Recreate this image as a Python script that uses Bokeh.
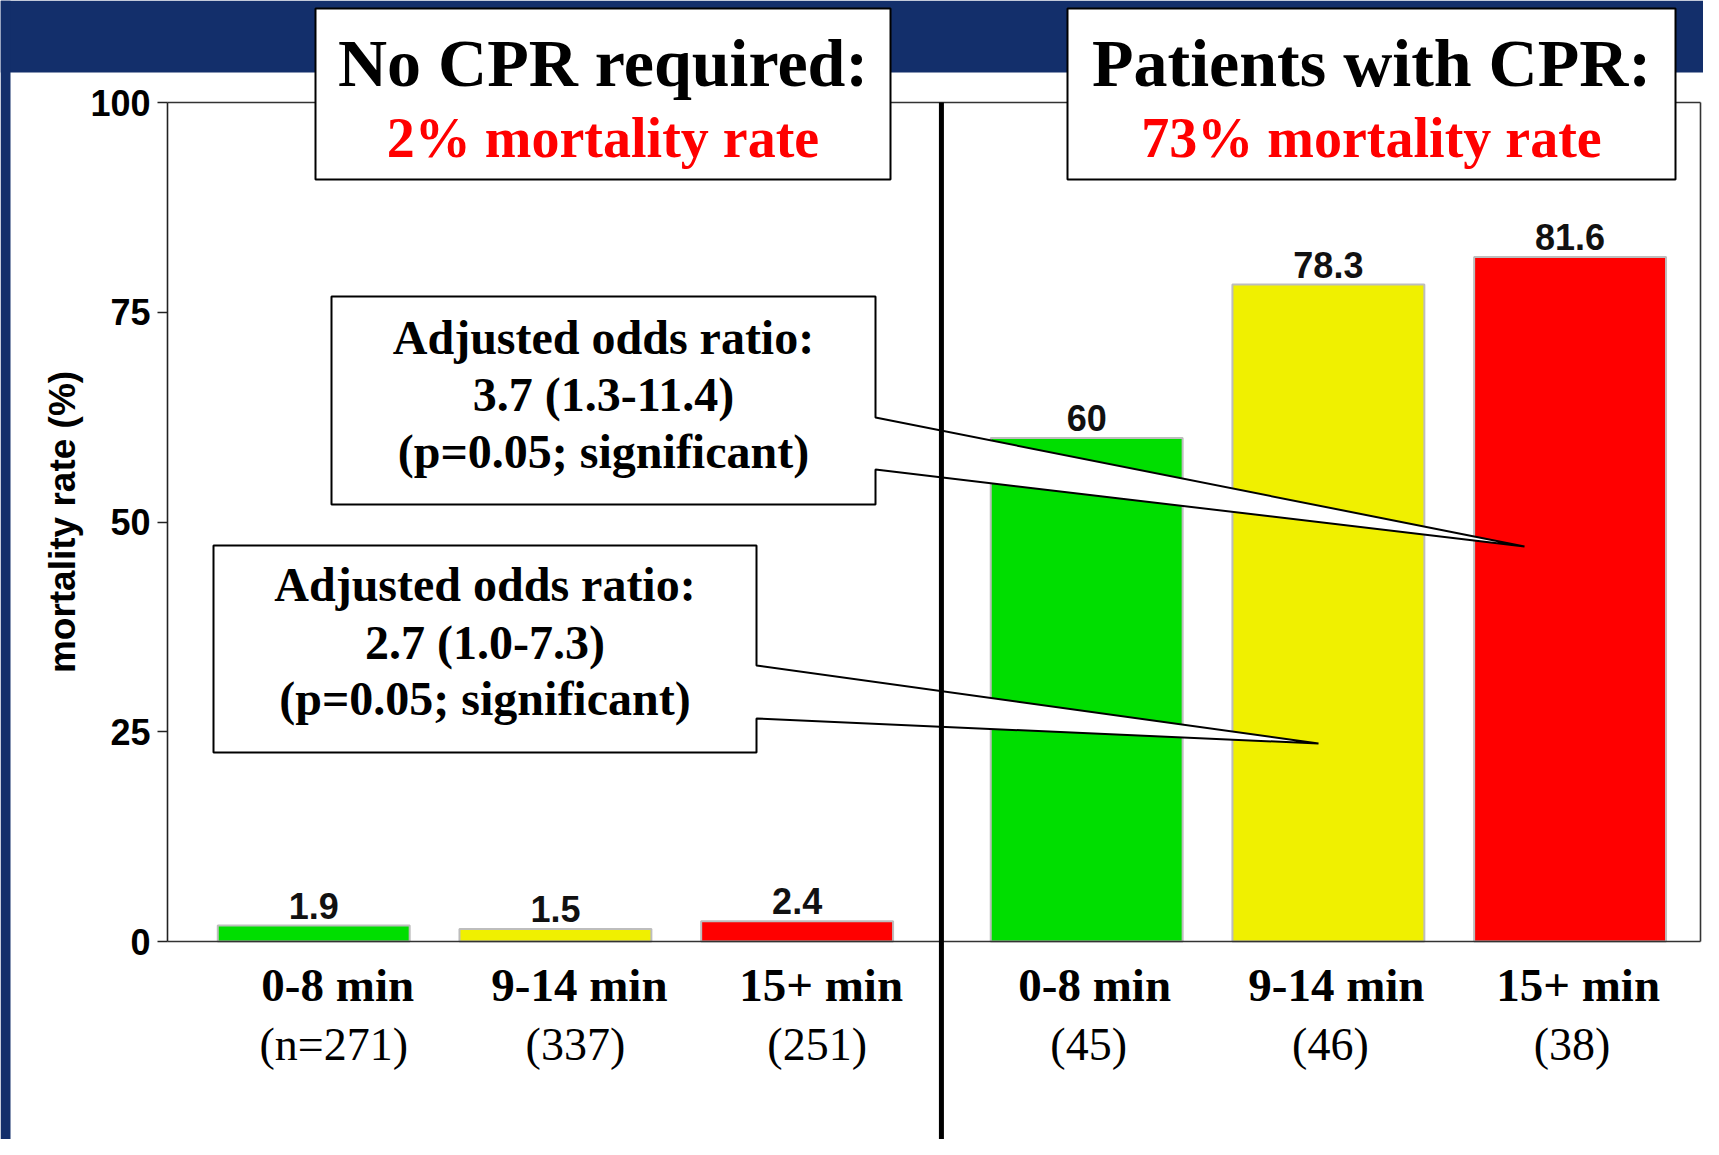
from bokeh.plotting import figure
from bokeh.models import Range1d, LinearAxis, FixedTicker, BoxAnnotation, ColumnDataSource
from bokeh.core.properties import value
from bokeh.embed import file_html
from bokeh.resources import INLINE

# ---------------- data ----------------
categories = ["0-8 min", "9-14 min", "15+ min"]
no_cpr_rates = [1.9, 1.5, 2.4]
cpr_rates = [60, 78.3, 81.6]
no_cpr_counts = ["(n=271)", "(337)", "(251)"]
cpr_counts = ["(45)", "(46)", "(38)"]
bar_colors = ["#00de00", "#f0f000", "#ff0000"]
y_ticks = [0, 25, 50, 75, 100]
titles = ["No CPR required:", "Patients with CPR:"]
subtitles = ["2% mortality rate", "73% mortality rate"]
callout_upper = ["Adjusted odds ratio:", "3.7 (1.3-11.4)", "(p=0.05; significant)"]
callout_lower = ["Adjusted odds ratio:", "2.7 (1.0-7.3)", "(p=0.05; significant)"]

# ---------------- layout ----------------
W, H = 1703, 1139
X0, SX = 167.0, 241.7      # canvas px of x=0, px per category step
Y0, SY = 941.0, 8.39       # canvas px of y=0, px per percent


def px2x(px):
    return (px - X0) / SX


def px2y(py):
    return (Y0 - py) / SY


LEFT_START, RIGHT_START, BAR_W = 0.605, 3.803, 0.794
DIVIDER_X = 3.202
RIGHT_EDGE = px2x(1700)
LABEL_GAP = 20 / SY

left_x = [LEFT_START + i for i in range(len(categories))]
right_x = [RIGHT_START + i for i in range(len(categories))]

p = figure(width=W, height=H, min_border=0, output_backend="svg", toolbar_location=None,
           x_range=Range1d(px2x(0), px2x(W)), y_range=Range1d(px2y(H), px2y(0)),
           x_axis_location=None, y_axis_location=None)
p.outline_line_color = None
p.background_fill_color = "white"
p.border_fill_color = "white"
p.xgrid.visible = False
p.ygrid.visible = False

# background blue band
p.add_layout(BoxAnnotation(bottom=px2y(72), fill_color="#132f6b", fill_alpha=1.0,
                           line_color=None, level="underlay"))
p.add_layout(BoxAnnotation(right=px2x(10), fill_color="#132f6b", fill_alpha=1.0,
                           line_color=None, level="underlay"))

# bars
all_rates = no_cpr_rates + cpr_rates
src = ColumnDataSource(dict(
    x=left_x + right_x,
    top=all_rates,
    label_y=[v + LABEL_GAP for v in all_rates],
    color=bar_colors + bar_colors,
    label=[f"{v:g}" for v in all_rates],
))
p.vbar(x="x", top="top", bottom=0, width=BAR_W, fill_color="color", line_color="#bdbdbd",
       line_width=2, source=src)

# frame lines
p.segment(x0=[0, RIGHT_EDGE, 0], y0=[100, 0, 0], x1=[RIGHT_EDGE, RIGHT_EDGE, RIGHT_EDGE],
          y1=[100, 100, 0], line_color="#333333", line_width=1.6)

# value labels
p.text(x="x", y="label_y", text="label", source=src, text_font=value("Liberation Sans"),
       text_font_size="36px", text_font_style="bold", text_color="#111111",
       text_align="center", text_baseline="alphabetic")

# y axis
yaxis = LinearAxis(fixed_location=0, bounds=(0, 100), ticker=FixedTicker(ticks=y_ticks),
                   axis_label="mortality rate (%)")
yaxis.axis_line_color = "#222222"
yaxis.axis_line_width = 1.6
yaxis.major_tick_line_color = "#222222"
yaxis.major_tick_line_width = 1.6
yaxis.major_tick_out = 10
yaxis.major_tick_in = 0
yaxis.minor_tick_line_color = None
yaxis.major_label_standoff = 7
yaxis.major_label_text_font = "Liberation Sans"
yaxis.major_label_text_font_style = "bold"
yaxis.major_label_text_font_size = "36px"
yaxis.major_label_text_color = "black"
yaxis.axis_label_text_font = "Liberation Sans"
yaxis.axis_label_text_font_style = "bold"
yaxis.axis_label_text_font_size = "37px"
yaxis.axis_label_text_color = "black"
yaxis.axis_label_standoff = 4
p.add_layout(yaxis, "left")

# category labels
p.text(x=left_x, y=[px2y(984)] * 3, text=categories,
       text_font=value("Liberation Serif"), text_font_size="47px", text_font_style="bold",
       text_color="black", text_align="center", text_baseline="middle", x_offset=24)
p.text(x=right_x, y=[px2y(984)] * 3, text=categories,
       text_font=value("Liberation Serif"), text_font_size="47px", text_font_style="bold",
       text_color="black", text_align="center", text_baseline="middle", x_offset=8)
p.text(x=left_x, y=[px2y(1044)] * 3, text=no_cpr_counts,
       text_font=value("Liberation Serif"), text_font_size="46px", text_font_style="normal",
       text_color="black", text_align="center", text_baseline="middle", x_offset=20)
p.text(x=right_x, y=[px2y(1044)] * 3, text=cpr_counts,
       text_font=value("Liberation Serif"), text_font_size="46px", text_font_style="normal",
       text_color="black", text_align="center", text_baseline="middle", x_offset=2)

# title boxes
title_boxes = [(315, 890), (1067, 1675)]
p.quad(left=[px2x(a) for a, b in title_boxes], right=[px2x(b) for a, b in title_boxes],
       top=[px2y(8)] * 2, bottom=[px2y(179)] * 2, fill_color="white", line_color="black",
       line_width=2)
p.text(x=[px2x((a + b) / 2) for a, b in title_boxes], y=[px2y(62)] * 2, text=titles,
       text_font=value("Liberation Serif"), text_font_size="68px", text_font_style="bold",
       text_color="black", text_align="center", text_baseline="middle")
p.text(x=[px2x((a + b) / 2) for a, b in title_boxes], y=[px2y(137)] * 2, text=subtitles,
       text_font=value("Liberation Serif"), text_font_size="56px", text_font_style="bold",
       text_color="#ff0000", text_align="center", text_baseline="middle")


# callouts (box with a pointed tail)
def callout(l, r, t, b, tail_a, tail_b, tip, lines, line_ys):
    xs = [l, r, r, tip[0], r, r, l]
    ys = [t, t, tail_a, tip[1], tail_b, b, b]
    p.patch(x=[px2x(v) for v in xs], y=[px2y(v) for v in ys], fill_color="white",
            line_color="black", line_width=2)
    p.text(x=[px2x((l + r) / 2)] * len(lines), y=[px2y(v) for v in line_ys], text=lines,
           text_font=value("Liberation Serif"), text_font_size="48px",
           text_font_style="bold", text_color="black", text_align="center",
           text_baseline="middle")


callout(331, 875, 296, 504, 417, 469, (1524, 546), callout_upper, [337, 394, 451])
callout(213, 756, 545, 752, 665, 718, (1318, 743), callout_lower, [584, 642, 698])

# divider between the two panels
p.segment(x0=[DIVIDER_X], y0=[100], x1=[DIVIDER_X], y1=[px2y(H + 5)], line_color="black",
          line_width=5)

open("out.html", "w").write(file_html(p, INLINE))
